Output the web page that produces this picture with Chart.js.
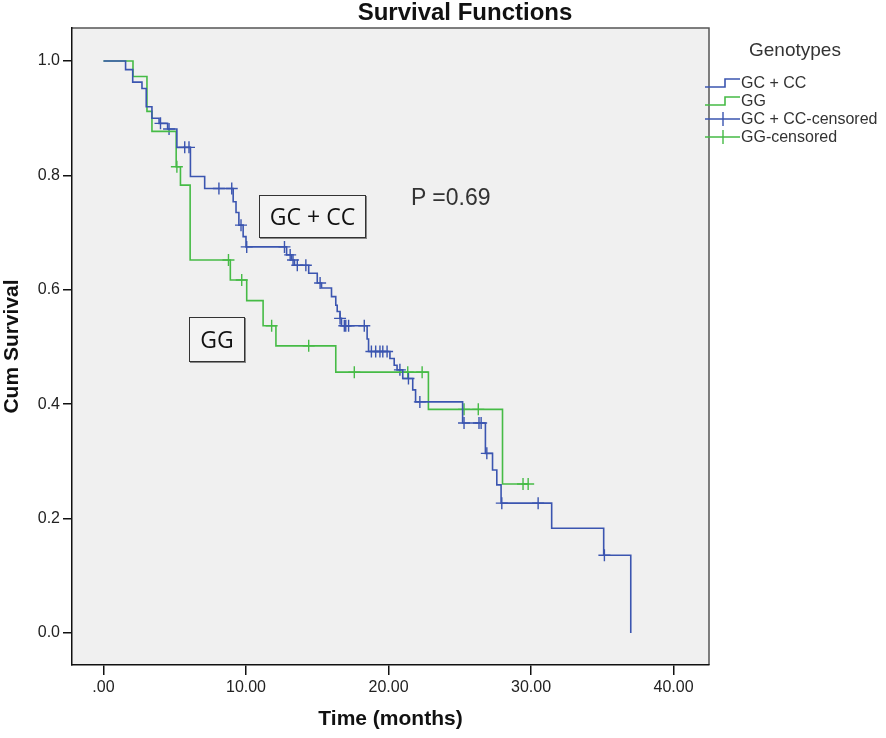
<!DOCTYPE html>
<html>
<head>
<meta charset="utf-8">
<script src="https://cdn.jsdelivr.net/npm/chart.js@4"></script>
<style>
  html, body { margin: 0; padding: 0; background: #fff; }
  #wrap { position: relative; width: 886px; height: 738px; overflow: hidden; }
  #title { position: absolute; left: 465px; top: 0; transform: translateX(-50%); white-space: nowrap;
    font: bold 24px/24px "Liberation Sans", Arial, sans-serif; color: #111; }
  #legend { position: absolute; left: 705px; top: 38px; font-family: "Liberation Sans", Arial, sans-serif; font-size: 16px; color: #333; }
  #legend .ttl { font-size: 19px; height: 26px; line-height: 24px; margin: 0 0 10px 44px; color: #333; }
  #legend .row { display: flex; align-items: center; height: 18px; white-space: nowrap; }
  .note { position: absolute; font-family: "Open Sans", "Noto Sans", sans-serif; color: #111; }
  .box { border: 1.5px solid #333; box-shadow: 1px 1px 0 #888; background: #f3f3f3; text-align: center; font-size: 23px; }
</style>
</head>
<body>
<div id="wrap">
  <canvas id="km" width="886" height="738"></canvas>
  <div id="title">Survival Functions</div>
  <div id="legend">
    <div class="ttl">Genotypes</div>
    <div class="row"><svg width="36" height="16"><path d="M0 12 H20 V4 H35" fill="none" stroke="#3b55b0" stroke-width="1.6"/></svg>GC + CC</div>
    <div class="row"><svg width="36" height="16"><path d="M0 12 H20 V4 H35" fill="none" stroke="#46bb46" stroke-width="1.6"/></svg>GG</div>
    <div class="row"><svg width="36" height="16"><path d="M0 8 H35 M18 1 V15" fill="none" stroke="#3b55b0" stroke-width="1.4"/></svg>GC + CC-censored</div>
    <div class="row"><svg width="36" height="16"><path d="M0 8 H35 M18 1 V15" fill="none" stroke="#46bb46" stroke-width="1.4"/></svg>GG-censored</div>
  </div>
  <div class="note box" style="left:259px; top:195px; width:105px; height:41px; line-height:41px;">GC + CC</div>
  <div class="note box" style="left:189px; top:317px; width:54px; height:43px; line-height:43px;">GG</div>
  <div class="note" style="left:411px; top:184px; font-family:'Liberation Sans', Arial, sans-serif; font-size:23px; color:#333;">P =0.69</div>
</div>
<script>
// Kaplan-Meier steps: event time (months) and survival after it
const gcTimes = [0, 1.55, 2.05, 2.7, 3.0, 3.4, 3.9, 4.5, 5.15, 6.1, 7.1, 9.1, 9.3, 9.5, 9.8, 10.0,
  12.85, 13.2, 13.4, 14.4, 15.0, 15.3, 16.0, 16.3, 16.4, 16.6, 16.7, 18.5, 18.6,
  20.1, 20.4, 20.6, 21.0, 21.7, 21.9, 25.2, 26.8, 27.3, 27.6, 27.9, 31.45, 35.1, 37.0];
const gcSurv = [1.0, 0.985, 0.963, 0.952, 0.92, 0.90, 0.891, 0.881, 0.849, 0.798, 0.777, 0.754, 0.735, 0.713, 0.693, 0.675,
  0.661, 0.652, 0.643, 0.629, 0.612, 0.603, 0.588, 0.573, 0.562, 0.55, 0.537, 0.514, 0.492,
  0.48, 0.468, 0.46, 0.445, 0.425, 0.404, 0.367, 0.314, 0.285, 0.259, 0.227, 0.183, 0.136, 0.0];
const gcCensored = [4.0, 4.6, 5.7, 6.0, 8.1, 9.0, 9.65, 10.05, 12.7, 13.1, 13.3, 13.6, 14.2, 15.2, 16.6,
  16.9, 17.0, 17.2, 18.3, 18.8, 19.1, 19.4, 19.6, 19.9, 20.8, 21.4, 22.2, 25.3, 26.35, 26.5, 26.9, 27.95, 30.5, 35.15];

const ggTimes = [0, 2.07, 3.05, 3.4, 5.1, 5.4, 6.08, 8.9, 10.05, 11.2, 12.1, 16.3, 22.8, 28.0, 29.8];
const ggSurv = [1.0, 0.973, 0.912, 0.877, 0.815, 0.783, 0.652, 0.617, 0.581, 0.537, 0.502, 0.456, 0.391, 0.2605, 0.2605];
const ggCensored = [5.15, 8.77, 9.7, 11.8, 14.4, 17.6, 21.35, 22.36, 25.3, 26.3, 29.44, 29.8];

const xTicks = [0, 10, 20, 30, 40];
const xTickLabels = [".00", "10.00", "20.00", "30.00", "40.00"];
const yTicks = [0, 0.2, 0.4, 0.6, 0.8, 1.0];

const BLUE = "#3b55b0";
const GREEN = "#46bb46";

function curve(times, surv) {
  return times.map((t, i) => ({ x: t, y: surv[i] }));
}
// survival value on the step curve at time t
function survAt(times, surv, t) {
  let s = surv[0];
  for (let i = 0; i < times.length; i++) if (times[i] <= t) s = surv[i];
  return s;
}
function marks(cens, times, surv) {
  return cens.map(t => ({ x: t, y: survAt(times, surv, t) }));
}

const plotBg = {
  id: "plotBg",
  beforeDraw(chart) {
    const { ctx, chartArea: a } = chart;
    ctx.save();
    ctx.fillStyle = "#f0f0f0";
    ctx.fillRect(a.left, a.top, a.right - a.left, a.bottom - a.top);
    ctx.strokeStyle = "#555";
    ctx.lineWidth = 1.5;
    ctx.beginPath();
    ctx.moveTo(a.left, a.top); ctx.lineTo(a.right, a.top); ctx.lineTo(a.right, a.bottom);
    ctx.stroke();
    ctx.restore();
  }
};

const font = "'Liberation Sans', Arial, sans-serif";

new Chart(document.getElementById("km"), {
  type: "line",
  data: {
    datasets: [
      { label: "GC + CC", data: curve(gcTimes, gcSurv), stepped: "before", borderColor: BLUE, borderWidth: 1.6, pointRadius: 0, fill: false },
      { label: "GG", data: curve(ggTimes, ggSurv), stepped: "before", borderColor: GREEN, borderWidth: 1.6, pointRadius: 0, fill: false },
      { label: "GC + CC-censored", data: marks(gcCensored, gcTimes, gcSurv), showLine: false, pointStyle: "cross", pointRadius: 6, pointBorderWidth: 1.4, borderColor: BLUE, backgroundColor: BLUE },
      { label: "GG-censored", data: marks(ggCensored, ggTimes, ggSurv), showLine: false, pointStyle: "cross", pointRadius: 6, pointBorderWidth: 1.4, borderColor: GREEN, backgroundColor: GREEN }
    ]
  },
  options: {
    responsive: false,
    animation: false,
    layout: { padding: { left: 0, right: 177, top: 28, bottom: 6 } },
    plugins: {
      legend: { display: false },
      tooltip: { enabled: false }
    },
    scales: {
      x: {
        type: "linear",
        min: -2.21,
        max: 42.49,
        afterBuildTicks: (s) => { s.ticks = xTicks.map(v => ({ value: v })); },
        afterFit: (s) => { s.height = 67; },
        ticks: {
          color: "#222",
          font: { family: font, size: 16 },
          padding: 3,
          maxRotation: 0,
          callback: (v) => xTickLabels[xTicks.indexOf(v)]
        },
        grid: { drawOnChartArea: false, drawTicks: true, tickLength: 10, color: "#111", lineWidth: 1.5 },
        border: { display: true, color: "#111", width: 1.5 },
        title: { display: true, text: "Time (months)", color: "#111", font: { family: font, size: 21, weight: "bold" }, padding: { top: 6, bottom: 0 } }
      },
      y: {
        type: "linear",
        min: -0.056,
        max: 1.0577,
        afterBuildTicks: (s) => { s.ticks = yTicks.map(v => ({ value: v })); },
        afterFit: (s) => { s.width = 72; },
        ticks: {
          color: "#222",
          font: { family: font, size: 16 },
          padding: 3,
          callback: (v) => v.toFixed(1)
        },
        grid: { drawOnChartArea: false, drawTicks: true, tickLength: 9, color: "#111", lineWidth: 1.5 },
        border: { display: true, color: "#111", width: 1.5 },
        title: { display: true, text: "Cum Survival", color: "#111", font: { family: font, size: 21, weight: "bold" }, padding: { top: 0, bottom: 4 } }
      }
    }
  },
  plugins: [plotBg]
});
</script>
</body>
</html>
